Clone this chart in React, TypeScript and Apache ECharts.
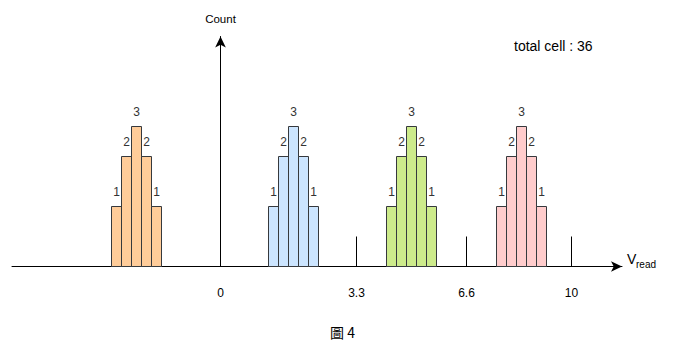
import React, { useEffect, useRef } from "react";
import * as echarts from "echarts";

// Positions are in drawing units (1 unit = 10 px) along the x axis
const orangeBins = [-10.4, -9.4, -8.4, -7.4, -6.4];
const blueBins = [5.3, 6.3, 7.3, 8.3, 9.3];
const greenBins = [17.1, 18.1, 19.1, 20.1, 21.1];
const pinkBins = [28.1, 29.1, 30.1, 31.1, 32.1];
// drawn heights (units of 10 px) and the counts shown above each bar
const barHeights = [6, 11, 14, 11, 6];
const barCounts = [1, 2, 3, 2, 1];
const binWidth = 1;
const groupColors = ["#ffcc99", "#cce5ff", "#cdeb8b", "#ffcccc"];
const tickPositions = [0, 13.6, 24.6, 35.1];
const tickLabels = ["0", "3.3", "6.6", "10"];
const totalText = "total cell : 36";
const figureCaption = "圖 4";

const FONT = "'Liberation Sans', Arial, Helvetica, sans-serif";

export default function App() {
  const ref = useRef<HTMLDivElement>(null);
  useEffect(() => {
    if (!ref.current) return;
    const chart = echarts.init(ref.current, undefined, { renderer: "svg" });
    const groups = [orangeBins, blueBins, greenBins, pinkBins];
    const data: any[] = [];
    groups.forEach((bins, gi) => {
      bins.forEach((x, i) => {
        data.push([x, barHeights[i], barCounts[i], gi]);
      });
    });
    chart.setOption({
      animation: false,
      textStyle: { fontFamily: FONT },
      title: {
        text: totalText,
        left: 509,
        top: 34,
        textStyle: { fontSize: 14, fontWeight: "normal", color: "#000", fontFamily: FONT },
      },
      grid: { left: 12, width: 610, top: 36.5, bottom: 86.5, containLabel: false },
      xAxis: {
        type: "value",
        min: -20.85,
        max: 40.15,
        splitLine: { show: false },
        axisLine: {
          show: true,
          lineStyle: { color: "#000", width: 1 },
          symbol: ["none", "arrow"],
          symbolSize: [8, 11],
        },
        axisTick: {
          show: true,
          inside: true,
          length: 30,
          customValues: tickPositions.slice(1),
          lineStyle: { color: "#000", width: 1 },
        },
        axisLabel: {
          show: true,
          customValues: tickPositions,
          formatter: (v: number) => {
            const idx = tickPositions.findIndex((p) => Math.abs(p - v) < 1e-6);
            return idx >= 0 ? tickLabels[idx] : "";
          },
          margin: 20,
          fontSize: 12,
          color: "#000",
          fontFamily: FONT,
        },
      },
      yAxis: {
        type: "value",
        min: 0,
        max: 23,
        name: "Count",
        nameLocation: "end",
        nameGap: 12,
        nameTextStyle: { fontSize: 11.5, color: "#000", fontFamily: FONT, align: "center" },
        splitLine: { show: false },
        axisTick: { show: false },
        axisLabel: { show: false },
        axisLine: {
          show: true,
          lineStyle: { color: "#000", width: 1 },
          symbol: ["none", "arrow"],
          symbolSize: [8, 11],
        },
      },
      series: [
        {
          type: "custom",
          data,
          encode: { x: 0, y: 1 },
          renderItem: (params: any, api: any) => {
            const x = api.value(0);
            const h = api.value(1);
            const cnt = api.value(2);
            const gi = api.value(3);
            const p0 = api.coord([x - binWidth / 2, 0]);
            const p1 = api.coord([x + binWidth / 2, h]);
            return {
              type: "group",
              children: [
                {
                  type: "rect",
                  shape: { x: p0[0], y: p1[1], width: p1[0] - p0[0], height: p0[1] - p1[1] },
                  style: { fill: groupColors[gi], stroke: "#36393d", lineWidth: 1 },
                },
                {
                  type: "text",
                  x: (p0[0] + p1[0]) / 2,
                  y: p1[1] - 15,
                  style: {
                    text: String(cnt),
                    fontSize: 12,
                    fill: "#333",
                    fontFamily: FONT,
                    align: "center",
                    verticalAlign: "middle",
                  },
                },
              ],
            };
          },
        },
      ],
      graphic: [
        {
          type: "text",
          left: 627,
          top: 252,
          style: { text: "V", fontSize: 14, fill: "#000", fontFamily: FONT },
        },
        {
          type: "text",
          left: 636,
          top: 259,
          style: { text: "read", fontSize: 10, fill: "#000", fontFamily: FONT },
        },
        {
          type: "text",
          left: 330,
          top: 325,
          style: {
            text: figureCaption,
            fontSize: 14,
            fill: "#000",
            fontFamily: "'Noto Sans CJK TC', 'Liberation Sans', sans-serif",
          },
        },
      ],
    });
    return () => chart.dispose();
  }, []);
  return (
    <div
      ref={ref}
      style={{ position: "absolute", left: 0, top: 0, width: 679, height: 353, background: "#fff" }}
    />
  );
}
